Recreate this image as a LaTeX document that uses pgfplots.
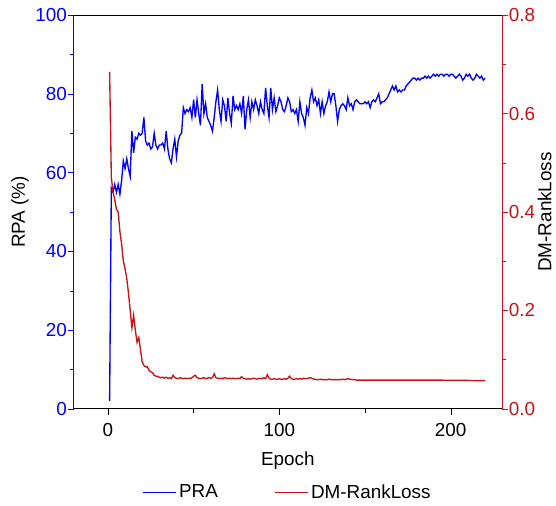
\documentclass[border=0pt]{standalone}
\usepackage{pgfplots}
\pgfplotsset{compat=1.18}
\pgfplotsset{legend image code/.code={\draw[#1] (0cm,0cm) -- (0.85cm,0cm);}}
\usepackage{fontspec}
\setmainfont{Liberation Sans}
\definecolor{myblue}{RGB}{0,0,255}
\definecolor{myred}{RGB}{200,20,20}
\begin{document}
\begin{tikzpicture}
\pgfplotsset{
  every axis/.append style={
    scale only axis, width=318pt, height=292pt,
    xmin=-20, xmax=230,
    font=\fontsize{14}{17}\selectfont,
    tick align=outside,
    major tick length=4.5pt, minor tick length=3pt,
    /pgf/number format/assume math mode=true,
  },
}
\begin{axis}[
  axis x line*=bottom, axis y line*=left,
  ymin=0, ymax=100,
  ytick={0,20,40,60,80,100}, minor y tick num=1,
  xtick={0,100,200}, minor x tick num=1,
  y axis line style={myblue}, y tick style={myblue}, y tick label style={myblue, xshift=3pt},
  x axis line style={black}, x tick style={black},
  xticklabel style={yshift=-3pt},
  xlabel={Epoch}, ylabel={RPA (\%)},
  xlabel style={yshift=-4.5pt},
  ylabel style={yshift=-2pt},
]
\addplot[myblue, line width=1pt] coordinates {
(1,2) (2,56) (3,55) (4,57) (5,55) (6,57) (7,54.5) (8,58) (9,63) (10,61)
(11,63.5) (12,61) (13,59) (14,70.5) (15,65) (16,69) (17,68.5) (18,70) (19,69.5) (20,70)
(21,74) (22,68) (23,67) (24,67.5) (25,66) (26,66.5) (27,70) (28,67) (29,66) (30,67)
(31,67) (32,67.5) (33,66) (34,70.5) (35,66) (36,63.5) (37,62.5) (38,66) (39,68.5) (40,64)
(41,68) (42,69.5) (43,70) (44,76.5) (45,75) (46,76) (47,75.5) (48,76.5) (49,74) (50,78.5)
(51,74) (52,78.5) (53,75) (54,72) (55,82.5) (56,75) (57,77.5) (58,74) (59,73) (60,72)
(61,70.5) (62,74) (63,78) (64,81) (65,76) (66,73) (67,78.5) (68,77) (69,73) (70,79)
(71,75) (72,72.5) (73,79.5) (74,76) (75,77) (76,76) (77,77.5) (78,75) (79,79.5) (80,71)
(81,76) (82,78.5) (83,74) (84,78) (85,76) (86,78.5) (87,77) (88,75) (89,78) (90,76)
(91,75) (92,81.5) (93,77) (94,74) (95,81.5) (96,76) (97,79) (98,75.5) (99,77) (100,79)
(101,78) (102,76) (103,75.5) (104,77) (105,79) (106,78) (107,75.5) (108,76) (109,75) (110,76)
(111,73) (112,78) (113,75) (114,74) (115,72) (116,76.5) (117,75) (118,79) (119,81) (120,78)
(121,79) (122,77) (123,78.5) (124,75) (125,78) (126,75) (127,77) (128,78) (129,80.5) (130,78)
(131,80) (132,80) (133,77) (134,73) (135,76) (136,77) (137,77.5) (138,77) (139,76) (140,79)
(141,77) (142,77.5) (143,76) (144,78) (145,78.5) (146,78) (147,77.5) (148,77.5) (149,77.5) (150,78)
(151,77.5) (152,78) (153,76.5) (154,78) (155,78.5) (156,78) (157,79) (158,80) (159,77.5) (160,78)
(161,78) (162,78.5) (163,79) (164,80) (165,81) (166,82) (167,81) (168,82) (169,80.5) (170,81)
(171,80.5) (172,81) (173,81) (174,82) (175,82.5) (176,83) (177,83.5) (178,84) (179,84) (180,83.5)
(181,84) (182,83.5) (183,84) (184,84) (185,84.5) (186,84) (187,84.5) (188,84) (189,84.5) (190,85)
(191,84.5) (192,85) (193,84.5) (194,85) (195,85) (196,84.5) (197,85) (198,85) (199,84.5) (200,85)
(201,85) (202,84.5) (203,84) (204,84.5) (205,85) (206,84.5) (207,83.5) (208,84) (209,85) (210,84.5)
(211,85) (212,84) (213,83.5) (214,84) (215,85) (216,84.5) (217,84) (218,84.5) (219,83.5) (220,84)
};
\end{axis}
\begin{axis}[
  axis x line*=top, axis y line*=right,
  xtick=\empty,
  ymin=0, ymax=0.8,
  ytick={0,0.2,0.4,0.6,0.8}, minor y tick num=1,
  y axis line style={myred}, y tick style={myred}, y tick label style={myred, xshift=-3pt,
    /pgf/number format/.cd, fixed, fixed zerofill, precision=1},
  x axis line style={black},
  ylabel={DM-RankLoss},
  ylabel style={black, yshift=5pt},
  legend style={at={(0.5,-0.178)}, anchor=north, draw=none, fill=none,
    font=\fontsize{14}{17}\selectfont, /tikz/every even column/.append style={column sep=40pt}},
  legend columns=2,
  legend cell align=left,
]
\addlegendimage{myblue, line width=1pt}
\addlegendentry{PRA}
\addplot[myred, line width=1pt] coordinates {
(1,0.685) (2,0.47) (3,0.44) (4,0.425) (5,0.405) (6,0.40) (7,0.36) (8,0.335) (9,0.30) (10,0.285)
(11,0.265) (12,0.235) (13,0.20) (14,0.165) (15,0.19) (16,0.16) (17,0.135) (18,0.145) (19,0.12) (20,0.095)
(21,0.088) (22,0.085) (23,0.085) (24,0.078) (25,0.075) (26,0.073) (27,0.068) (28,0.066) (29,0.066) (30,0.064)
(31,0.063) (32,0.064) (33,0.062) (34,0.064) (35,0.062) (36,0.063) (37,0.061) (38,0.068) (39,0.063) (40,0.062)
(41,0.061) (42,0.063) (43,0.062) (44,0.061) (45,0.062) (46,0.061) (47,0.062) (48,0.061) (49,0.063) (50,0.066)
(51,0.068) (52,0.063) (53,0.062) (54,0.061) (55,0.062) (56,0.063) (57,0.061) (58,0.062) (59,0.063) (60,0.062)
(61,0.063) (62,0.071) (63,0.063) (64,0.062) (65,0.061) (66,0.062) (67,0.061) (68,0.063) (69,0.062) (70,0.061)
(71,0.062) (72,0.061) (73,0.062) (74,0.061) (75,0.061) (76,0.062) (77,0.061) (78,0.065) (79,0.062) (80,0.061)
(81,0.060) (82,0.061) (83,0.060) (84,0.061) (85,0.062) (86,0.061) (87,0.060) (88,0.061) (89,0.062) (90,0.061)
(91,0.063) (92,0.061) (93,0.069) (94,0.062) (95,0.060) (96,0.060) (97,0.061) (98,0.060) (99,0.060) (100,0.061)
(101,0.060) (102,0.060) (103,0.061) (104,0.060) (105,0.062) (106,0.066) (107,0.061) (108,0.060) (109,0.060) (110,0.061)
(111,0.060) (112,0.061) (113,0.060) (114,0.062) (115,0.061) (116,0.061) (117,0.062) (118,0.063) (119,0.062) (120,0.060)
(121,0.060) (122,0.059) (123,0.059) (124,0.060) (125,0.059) (126,0.059) (127,0.059) (128,0.059) (129,0.060) (130,0.059)
(131,0.059) (132,0.059) (133,0.059) (134,0.059) (135,0.059) (136,0.059) (137,0.060) (138,0.059) (139,0.060) (140,0.061)
(141,0.060) (142,0.060) (143,0.059) (144,0.059) (145,0.058) (150,0.058) (155,0.058) (160,0.058) (165,0.058) (170,0.058)
(175,0.058) (180,0.058) (185,0.058) (190,0.058) (195,0.058) (200,0.0575) (205,0.0575) (210,0.0575) (215,0.057) (220,0.057)
};
\addlegendentry{DM-RankLoss}
\end{axis}
\path ([xshift=-5pt,yshift=3pt]current bounding box.north west);
\end{tikzpicture}
\end{document}
